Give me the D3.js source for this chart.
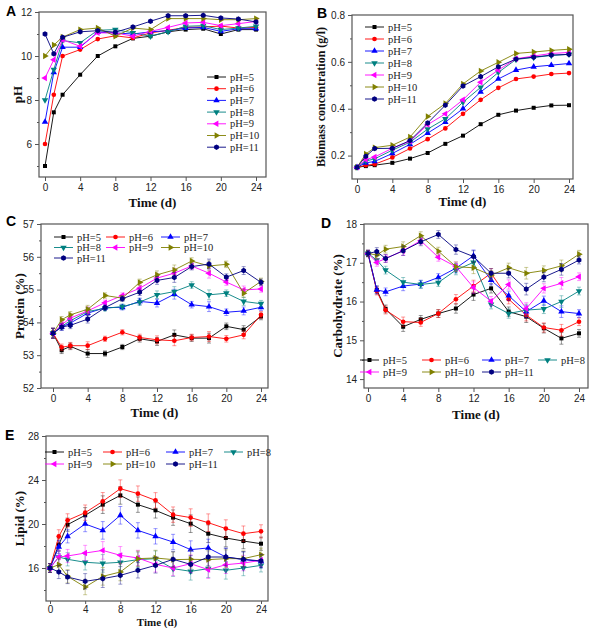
<!DOCTYPE html>
<html lang="en">
<head>
<meta charset="utf-8">
<title>pH effect on growth and composition</title>
<script src="https://cdn.jsdelivr.net/npm/d3@7"></script>
<style>
  body { margin: 0; background: #fff; }
  .tick text { font-family: "Liberation Sans", Arial, sans-serif; font-size: 10px; fill: #222; }
  .tick line, .domain { stroke: #555; }
  .legend text { font-family: "Liberation Serif", "Times New Roman", serif; font-size: 10.5px; fill: #222; }
  .title { font-family: "Liberation Serif", "Times New Roman", serif; font-weight: bold; font-size: 13px; fill: #111; }
  .plabel { font-family: "Liberation Sans", Arial, sans-serif; font-weight: bold; font-size: 14px; fill: #000; }
</style>
</head>
<body>
<script>
// ---- data ----
var days = [0, 1, 2, 4, 6, 8, 10, 12, 14, 16, 18, 20, 22, 24];
var seriesNames = ["pH=5", "pH=6", "pH=7", "pH=8", "pH=9", "pH=10", "pH=11"];
var seriesColors = ["#000000", "#ff0000", "#0000ff", "#008080", "#ff00ff", "#808000", "#000080"];

// A: pH of the medium
var phData = [
  [5.0, 7.44, 8.24, 9.15, 10.0, 10.44, 10.8, 10.9, 11.1, 11.2, 11.24, 11.0, 11.2, 11.2],
  [6.0, 8.24, 10.0, 10.29, 10.77, 10.92, 10.82, 11.05, 11.17, 11.3, 11.32, 11.36, 11.27, 11.3],
  [7.0, 9.25, 10.4, 10.4, 11.08, 11.05, 11.0, 11.1, 11.15, 11.27, 11.3, 11.12, 11.24, 11.24],
  [8.0, 9.38, 10.7, 10.6, 11.17, 11.2, 11.05, 10.9, 11.1, 11.35, 11.38, 11.2, 11.27, 11.35],
  [9.0, 9.83, 10.74, 10.44, 11.05, 11.05, 10.9, 11.12, 11.3, 11.5, 11.53, 11.38, 11.47, 11.57],
  [10.0, 10.5, 10.86, 11.2, 11.27, 10.9, 11.27, 11.2, 11.7, 11.7, 11.7, 11.65, 11.65, 11.7],
  [11.0, 10.1, 10.85, 11.1, 11.15, 11.08, 11.32, 11.58, 11.83, 11.83, 11.85, 11.73, 11.68, 11.55]
];
// B: biomass concentration (g/l)
var biomassData = [
  [0.15, 0.155, 0.159, 0.169, 0.187, 0.211, 0.25, 0.285, 0.334, 0.374, 0.392, 0.404, 0.414, 0.415],
  [0.15, 0.159, 0.163, 0.192, 0.23, 0.27, 0.316, 0.378, 0.438, 0.489, 0.527, 0.537, 0.548, 0.552],
  [0.15, 0.169, 0.175, 0.209, 0.248, 0.296, 0.343, 0.40, 0.472, 0.527, 0.565, 0.579, 0.586, 0.593],
  [0.15, 0.177, 0.186, 0.223, 0.257, 0.313, 0.357, 0.428, 0.491, 0.555, 0.61, 0.619, 0.627, 0.632],
  [0.15, 0.183, 0.194, 0.231, 0.261, 0.332, 0.378, 0.438, 0.513, 0.565, 0.613, 0.625, 0.636, 0.64],
  [0.15, 0.207, 0.234, 0.244, 0.279, 0.367, 0.422, 0.506, 0.561, 0.598, 0.636, 0.642, 0.649, 0.654],
  [0.15, 0.197, 0.23, 0.231, 0.264, 0.339, 0.415, 0.497, 0.537, 0.579, 0.612, 0.62, 0.629, 0.632]
];
// C: protein (%)
var proteinData = [
  [53.67, 53.15, 53.27, 53.05, 53.05, 53.25, 53.5, 53.42, 53.62, 53.52, 53.52, 53.88, 53.78, 54.18],
  [53.67, 53.24, 53.29, 53.29, 53.5, 53.7, 53.54, 53.47, 53.44, 53.54, 53.57, 53.5, 53.62, 54.23],
  [53.67, 53.86, 53.98, 54.28, 54.45, 54.46, 54.64, 54.59, 54.86, 54.54, 54.48, 54.31, 54.35, 54.46],
  [53.67, 53.88, 54.05, 54.33, 54.43, 54.48, 54.62, 54.84, 54.94, 55.14, 54.84, 54.89, 54.64, 54.57],
  [53.67, 53.93, 54.13, 54.35, 54.6, 54.82, 55.04, 55.35, 55.5, 55.72, 55.5, 55.23, 54.99, 55.02],
  [53.67, 54.08, 54.23, 54.4, 54.82, 54.74, 55.22, 55.45, 55.6, 55.87, 55.72, 55.77, 54.89, 55.25],
  [53.67, 53.86, 53.91, 54.1, 54.45, 54.72, 54.92, 55.28, 55.37, 55.7, 55.78, 55.38, 55.58, 55.22]
];
var proteinErr = [0.15, 0.1, 0.1, 0.12, 0.08, 0.08, 0.1, 0.12, 0.15, 0.1, 0.15, 0.1, 0.12, 0.1];
// D: carbohydrate (%)
var carbData = [
  [17.24, 16.3, 15.81, 15.35, 15.54, 15.69, 15.82, 16.18, 16.34, 15.74, 15.61, 15.31, 15.05, 15.18],
  [17.24, 16.27, 15.78, 15.48, 15.46, 15.69, 16.06, 16.4, 16.73, 16.06, 15.65, 15.33, 15.26, 15.48],
  [17.24, 16.3, 16.25, 16.4, 16.45, 16.62, 16.86, 17.18, 16.55, 16.15, 15.74, 16.02, 15.74, 15.69],
  [17.24, 17.07, 16.81, 16.5, 16.44, 16.49, 16.81, 17.01, 15.93, 15.69, 15.78, 15.81, 16.0, 16.27],
  [17.24, 17.01, 17.11, 17.31, 17.57, 17.14, 16.9, 16.36, 16.01, 16.44, 15.82, 16.34, 16.47, 16.64],
  [17.24, 17.2, 17.35, 17.42, 17.7, 17.3, 16.9, 16.87, 16.68, 16.87, 16.73, 16.8, 16.92, 17.22],
  [17.24, 17.29, 17.11, 17.31, 17.54, 17.73, 17.34, 17.16, 16.73, 16.73, 16.32, 16.63, 16.83, 17.07]
];
var carbErr = [0.08, 0.1, 0.1, 0.12, 0.1, 0.1, 0.12, 0.15, 0.12, 0.12, 0.15, 0.12, 0.15, 0.1];
// E: lipid (%)
var lipidData = [
  [16.0, 18.12, 19.94, 20.79, 21.76, 22.6, 21.76, 21.24, 20.58, 20.03, 19.12, 18.73, 18.45, 18.21],
  [16.0, 18.88, 20.33, 21.03, 22.06, 23.21, 22.76, 22.15, 20.85, 20.58, 20.12, 19.58, 19.12, 19.33],
  [16.0, 17.91, 18.88, 20.0, 19.42, 20.79, 19.42, 18.88, 18.36, 17.67, 17.82, 17.0, 16.76, 16.6],
  [16.0, 17.0, 16.79, 16.52, 16.42, 16.52, 16.76, 16.85, 15.94, 15.7, 15.94, 15.79, 16.0, 16.24],
  [16.0, 17.0, 17.09, 17.36, 17.6, 17.15, 16.91, 16.33, 16.0, 16.39, 15.85, 16.3, 16.45, 16.7],
  [16.0, 16.3, 15.24, 14.27, 15.24, 15.64, 16.85, 16.91, 16.76, 16.79, 16.76, 16.85, 16.85, 17.21],
  [16.0, 15.64, 15.18, 14.79, 15.03, 15.33, 15.79, 16.24, 16.79, 16.33, 17.0, 17.0, 16.79, 16.64]
];
var lipidErr = [0.4, 0.6, 0.6, 0.7, 0.8, 0.8, 0.7, 0.7, 0.7, 0.8, 0.8, 0.8, 0.7, 0.6];

var xTicks = [0, 4, 8, 12, 16, 20, 24];

// ---- layout ----
var svg = d3.select("body").append("svg")
  .attr("width", 592).attr("height", 628);

// hexagon marker for pH=11
var symbolHexagon = {
  draw: function(context, size) {
    var r = Math.sqrt(size / 2.598);
    for (var i = 0; i < 6; i++) {
      var a = Math.PI / 3 * i + Math.PI / 6;
      if (i === 0) context.moveTo(r * Math.cos(a), r * Math.sin(a));
      else context.lineTo(r * Math.cos(a), r * Math.sin(a));
    }
    context.closePath();
  }
};
var markerTypes = [
  { type: d3.symbolSquare, size: 16, rot: 0 },
  { type: d3.symbolCircle, size: 17, rot: 0 },
  { type: d3.symbolTriangle, size: 18, rot: 0 },
  { type: d3.symbolTriangle, size: 18, rot: 180 },
  { type: d3.symbolTriangle, size: 18, rot: -90 },
  { type: d3.symbolTriangle, size: 18, rot: 90 },
  { type: symbolHexagon, size: 20, rot: 0 }
];

function marker(g, i, x, y) {
  var m = markerTypes[i];
  g.append("path")
    .attr("d", d3.symbol().type(m.type).size(m.size)())
    .attr("transform", "translate(" + x + "," + y + ") rotate(" + m.rot + ")")
    .attr("fill", seriesColors[i]);
}

function panel(p) {
  var g = svg.append("g");
  var x = d3.scaleLinear().domain([0, 24]).range(p.xr);
  var y = d3.scaleLinear().domain(p.yd).range([p.f[3], p.f[1]]);

  // frame
  g.append("rect")
    .attr("x", p.f[0]).attr("y", p.f[1])
    .attr("width", p.f[2] - p.f[0]).attr("height", p.f[3] - p.f[1])
    .attr("fill", "none").attr("stroke", "#555").attr("stroke-width", 1.2);

  // x axis
  var xa = g.append("g")
    .attr("transform", "translate(0," + p.f[3] + ")")
    .call(d3.axisBottom(x).tickValues(xTicks).tickSize(p.xtick || 4).tickPadding(p.xpad || 3));
  xa.select(".domain").remove();

  // y axis, major + minor
  var ya = g.append("g")
    .attr("transform", "translate(" + p.f[0] + ",0)")
    .call(d3.axisLeft(y).tickValues(p.yt).tickSize(4).tickPadding(3)
      .tickFormat(p.fmt || d3.format("d")));
  ya.select(".domain").remove();
  var ym = g.append("g")
    .attr("transform", "translate(" + p.f[0] + ",0)")
    .call(d3.axisLeft(y).tickValues(p.ym).tickSize(2).tickFormat(""));
  ym.select(".domain").remove();

  var line = d3.line().x(function(d, i) { return x(days[i]); }).y(function(d) { return y(d); });

  p.data.forEach(function(vals, s) {
    var col = seriesColors[s];
    if (p.err) {
      vals.forEach(function(v, i) {
        var e = p.err[i], cx = x(days[i]);
        g.append("path")
          .attr("d", "M" + cx + "," + y(v - e) + "V" + y(v + e) +
            "M" + (cx - 2) + "," + y(v - e) + "H" + (cx + 2) +
            "M" + (cx - 2) + "," + y(v + e) + "H" + (cx + 2))
          .attr("stroke", col).attr("stroke-opacity", 0.4).attr("fill", "none");
      });
    }
    g.append("path").datum(vals)
      .attr("d", line)
      .attr("fill", "none").attr("stroke", col).attr("stroke-width", 0.9);
    vals.forEach(function(v, i) { marker(g, s, x(days[i]), y(v)); });
  });

  // legend
  var lg = g.append("g").attr("class", "legend");
  seriesNames.forEach(function(name, s) {
    var pos = p.leg(s);
    lg.append("line")
      .attr("x1", pos[0] - 23).attr("x2", pos[0] - 4)
      .attr("y1", pos[1]).attr("y2", pos[1])
      .attr("stroke", seriesColors[s]).attr("stroke-width", 0.9);
    marker(lg, s, pos[0] - 13.5, pos[1]);
    lg.append("text").attr("x", pos[0]).attr("y", pos[1] + 3.5).text(name);
  });

  // titles
  g.append("text").attr("class", "title")
    .attr("x", (p.f[0] + p.f[2]) / 2).attr("y", p.xtY)
    .attr("text-anchor", "middle")
    .style("font-size", p.xtSize || null)
    .text("Time (d)");
  g.append("text").attr("class", "title")
    .attr("transform", "translate(" + p.ytX + "," + ((p.f[1] + p.f[3]) / 2) + ") rotate(-90)")
    .attr("text-anchor", "middle")
    .style("font-size", p.ytSize || null)
    .text(p.ytitle);
  g.append("text").attr("class", "plabel")
    .attr("x", p.lab[0]).attr("y", p.lab[1]).text(p.name);
}

panel({
  name: "A", lab: [6, 16], f: [39, 12, 266, 177], xr: [45, 256],
  yd: [4.5, 12], yt: [6, 8, 10, 12], ym: [5, 7, 9, 11],
  data: phData, ytitle: "pH", ytX: 22, xtY: 207,
  leg: function(s) { return [230, 77 + s * 11.7]; }
});
panel({
  name: "B", lab: [317, 18], f: [352, 15, 573, 179], xr: [357, 569],
  yd: [0.1, 0.8], yt: [0.2, 0.4, 0.6, 0.8], ym: [0.3, 0.5, 0.7], fmt: d3.format(".1f"),
  data: biomassData, ytitle: "Biomass concentration (g/l)", ytSize: "12px", ytX: 325, xtY: 206,
  leg: function(s) { return [388, 27 + s * 12]; }
});
panel({
  name: "C", lab: [6, 226], f: [41, 224, 268, 388], xr: [53, 261],
  yd: [52, 57], yt: [52, 53, 54, 55, 56, 57], ym: [52.5, 53.5, 54.5, 55.5, 56.5],
  data: proteinData, err: proteinErr, ytitle: "Protein (%)", ytX: 24, xtY: 417,
  leg: function(s) { return [[77, 129, 184][s % 3], 237 + Math.floor(s / 3) * 10.5]; }
});
panel({
  name: "D", lab: [321, 228], f: [364, 224, 588, 388], xr: [368, 579],
  yd: [13.77, 18], yt: [14, 15, 16, 17, 18], ym: [14.5, 15.5, 16.5, 17.5],
  data: carbData, err: carbErr, ytitle: "Carbohydrate (%)", ytX: 342, xtY: 419,
  leg: function(s) {
    var cols = s < 4 ? [383, 445, 505, 561] : [383, 445, 505];
    return [cols[s % 4], s < 4 ? 360 : 372];
  }
});
panel({
  name: "E", lab: [5, 440], f: [46, 436, 268, 601], xr: [50, 261],
  yd: [13, 28], yt: [16, 20, 24, 28], ym: [14, 18, 22, 26],
  data: lipidData, err: lipidErr, ytitle: "Lipid (%)", ytX: 24,
  xtY: 626, xtSize: "11px", xtick: 3, xpad: 1.5,
  leg: function(s) {
    var cols = s < 4 ? [68, 126, 189, 247] : [68, 126, 189];
    return [cols[s % 4], s < 4 ? 452 : 464];
  }
});
</script>
</body>
</html>
